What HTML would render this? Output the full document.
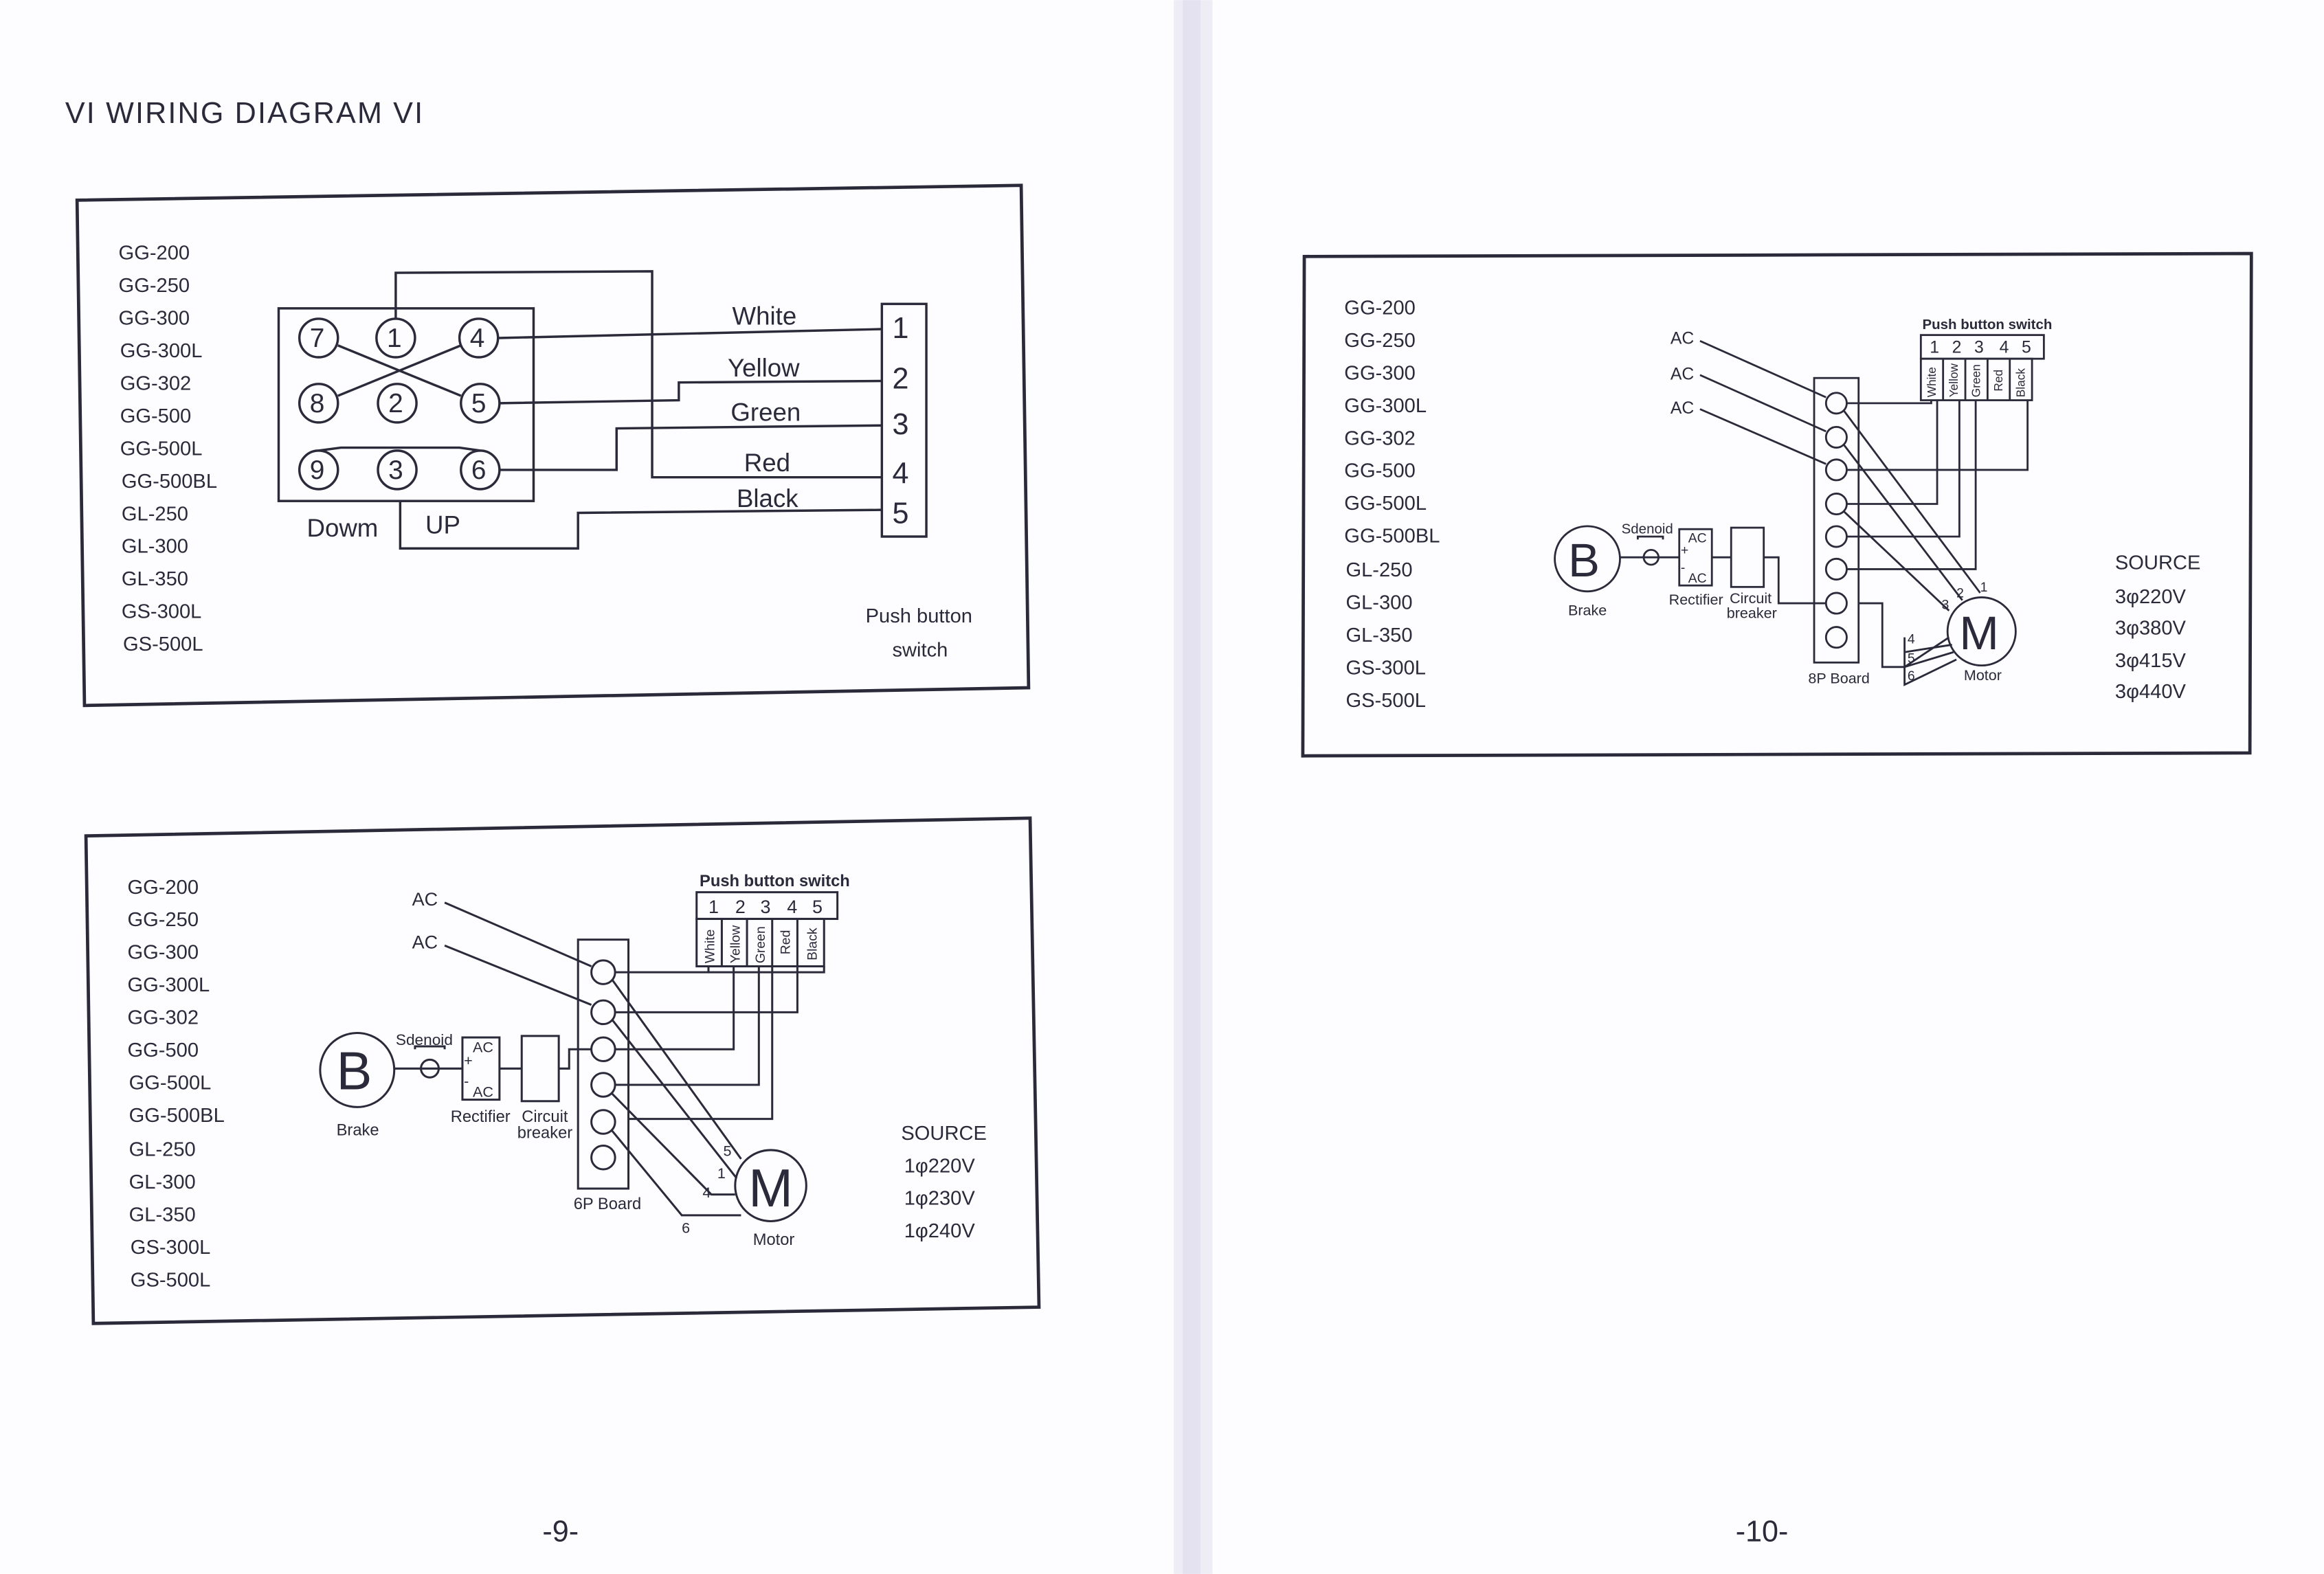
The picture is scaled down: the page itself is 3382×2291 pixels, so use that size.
<!DOCTYPE html>
<html><head><meta charset="utf-8"><style>
html,body{margin:0;padding:0;background:#fff;}
svg{display:block;}
text{font-family:"Liberation Sans",Arial,sans-serif;fill:#2a2a3a;}
</style></head><body>
<svg width="3382" height="2291" viewBox="0 0 1568 1062" xmlns="http://www.w3.org/2000/svg">
<rect x="0" y="0" width="1568" height="1062" fill="#fdfdff"/>
<rect x="792" y="0" width="26" height="1062" fill="#eeedf6"/>
<rect x="798" y="0" width="12" height="1062" fill="#e4e2f0"/>
<g stroke="#2a2a3a" fill="none" stroke-width="1.6">
<polygon points="52,135 689,125 694,464 57,476" stroke-width="2.2"/>
<polygon points="58,564 695,552 701,882 63,893" stroke-width="2.2"/>
<polygon points="880,173 1519,171 1518,508 879,510" stroke-width="2.2"/>
</g>
<text x="44" y="83" font-size="20" letter-spacing="1">VI WIRING DIAGRAM VI</text>

<g font-size="13.5">
<text x="80" y="175">GG-200</text><text x="80" y="197">GG-250</text><text x="80" y="219">GG-300</text><text x="81" y="241">GG-300L</text><text x="81" y="263">GG-302</text><text x="81" y="285">GG-500</text><text x="81" y="307">GG-500L</text><text x="82" y="329">GG-500BL</text><text x="82" y="351">GL-250</text><text x="82" y="373">GL-300</text><text x="82" y="395">GL-350</text><text x="82" y="417">GS-300L</text><text x="83" y="439">GS-500L</text>

<text x="86" y="603">GG-200</text><text x="86" y="625">GG-250</text><text x="86" y="647">GG-300</text><text x="86" y="669">GG-300L</text><text x="86" y="691">GG-302</text><text x="86" y="713">GG-500</text><text x="87" y="735">GG-500L</text><text x="87" y="757">GG-500BL</text><text x="87" y="780">GL-250</text><text x="87" y="802">GL-300</text><text x="87" y="824">GL-350</text><text x="88" y="846">GS-300L</text><text x="88" y="868">GS-500L</text>

<text x="907" y="212">GG-200</text><text x="907" y="234">GG-250</text><text x="907" y="256">GG-300</text><text x="907" y="278">GG-300L</text><text x="907" y="300">GG-302</text><text x="907" y="322">GG-500</text><text x="907" y="344">GG-500L</text><text x="907" y="366">GG-500BL</text><text x="908" y="389">GL-250</text><text x="908" y="411">GL-300</text><text x="908" y="433">GL-350</text><text x="908" y="455">GS-300L</text><text x="908" y="477">GS-500L</text>
</g>

<g stroke="#2a2a3a" fill="none" stroke-width="1.6">
<rect x="188" y="208" width="172" height="130"/>
<circle cx="215" cy="228" r="13"/><circle cx="267" cy="228" r="13"/><circle cx="323" cy="228" r="13"/>
<circle cx="215" cy="272" r="13"/><circle cx="268" cy="272" r="13"/><circle cx="324" cy="272" r="13"/>
<circle cx="215" cy="317" r="13"/><circle cx="268" cy="317" r="13"/><circle cx="324" cy="317" r="13"/>
<line x1="228" y1="233" x2="311" y2="267"/><line x1="228" y1="267" x2="311" y2="233"/>
<polyline points="215,304 230,302 310,302 324,304"/>
<polyline points="267,215 267,184 440,183 440,322 595,322"/>
<line x1="336" y1="228" x2="595" y2="222"/>
<polyline points="337,272 458,270 458,258 595,257"/>
<polyline points="337,317 416,317 416,289 595,287"/>
<polyline points="270,338 270,370 390,370 390,346 595,344"/>
<rect x="595" y="205" width="30" height="157"/>
</g>
<g font-size="17">
<text x="209" y="234" font-size="18">7</text><text x="261" y="234" font-size="18">1</text><text x="317" y="234" font-size="18">4</text>
<text x="209" y="278" font-size="18">8</text><text x="262" y="278" font-size="18">2</text><text x="318" y="278" font-size="18">5</text>
<text x="209" y="323" font-size="18">9</text><text x="262" y="323" font-size="18">3</text><text x="318" y="323" font-size="18">6</text>
<text x="494" y="219">White</text><text x="491" y="254">Yellow</text><text x="493" y="284">Green</text><text x="502" y="318">Red</text><text x="497" y="342">Black</text>
<text x="602" y="228" font-size="20">1</text><text x="602" y="262" font-size="20">2</text><text x="602" y="293" font-size="20">3</text><text x="602" y="326" font-size="20">4</text><text x="602" y="353" font-size="20">5</text>
<text x="207" y="362">Dowm</text><text x="287" y="360">UP</text>
</g>
<text x="584" y="420" font-size="13.5">Push  button</text>
<text x="602" y="443" font-size="13.5">switch</text>

<g stroke="#2a2a3a" fill="none" stroke-width="1.4">
<rect x="390" y="634" width="34" height="168"/>
<circle cx="407" cy="656" r="8"/><circle cx="407" cy="683" r="8"/><circle cx="407" cy="708" r="8"/><circle cx="407" cy="732" r="8"/><circle cx="407" cy="757" r="8"/><circle cx="407" cy="781" r="8"/>
<line x1="300" y1="609" x2="399" y2="652"/><line x1="300" y1="638" x2="399" y2="678"/>
<rect x="470" y="602" width="95" height="18"/>
<rect x="470" y="620" width="86" height="32"/>
<line x1="487" y1="620" x2="487" y2="652"/><line x1="504" y1="620" x2="504" y2="652"/><line x1="521" y1="620" x2="521" y2="652"/><line x1="538" y1="620" x2="538" y2="652"/>
<polyline points="415,656 478,656 478,652"/>
<polyline points="415,683 538,683 538,652"/>
<polyline points="415,708 495,708 495,652"/>
<polyline points="415,732 512,732 512,652"/>
<polyline points="424,755 521,755 521,652"/>
<polyline points="556,652 556,656 478,656"/>
<line x1="413" y1="661" x2="500" y2="782"/>
<line x1="413" y1="688" x2="497" y2="795"/>
<polyline points="413,738 480,806 496,806"/>
<polyline points="413,763 460,820 500,820"/>
<circle cx="520" cy="800" r="24"/>
<circle cx="241" cy="722" r="25"/>
<line x1="266" y1="721" x2="312" y2="721"/>
<circle cx="290" cy="721" r="6"/>
<polyline points="280,708 280,706 300,706 300,708"/>
<rect x="312" y="700" width="25" height="42"/>
<line x1="337" y1="721" x2="352" y2="721"/>
<rect x="352" y="699" width="25" height="44"/>
<polyline points="377,721 384,721 384,708 399,708"/>
</g>
<g font-size="12.5">
<text x="278" y="611">AC</text><text x="278" y="640">AC</text>
<text x="472" y="598" font-size="11" font-weight="bold">Push button switch</text>
<text x="478" y="616">1</text><text x="496" y="616">2</text><text x="513" y="616">3</text><text x="531" y="616">4</text><text x="548" y="616">5</text>
<text x="227" y="735" font-size="36">B</text>
<text x="505" y="814" font-size="36">M</text>
<text x="227" y="766" font-size="11">Brake</text>
<text x="267" y="705" font-size="10.5">Sdenoid</text>
<text x="319" y="710" font-size="10">AC</text><text x="313" y="719" font-size="10">+</text><text x="313" y="733" font-size="10">-</text><text x="319" y="740" font-size="10">AC</text>
<text x="304" y="757" font-size="11">Rectifier</text><text x="352" y="757" font-size="11">Circuit</text><text x="349" y="768" font-size="11">breaker</text>
<text x="387" y="816" font-size="11">6P Board</text>
<text x="508" y="840" font-size="11">Motor</text>
<text x="488" y="780" font-size="10">5</text><text x="484" y="795" font-size="10">1</text><text x="474" y="808" font-size="10">4</text><text x="460" y="832" font-size="10">6</text>
<text x="608" y="769" font-size="13.5">SOURCE</text>
<text x="610" y="791" font-size="13.5">1φ220V</text><text x="610" y="813" font-size="13.5">1φ230V</text><text x="610" y="835" font-size="13.5">1φ240V</text>
</g>
<g font-size="9">
<text transform="translate(482,650) rotate(-90)">White</text>
<text transform="translate(499,650) rotate(-90)">Yellow</text>
<text transform="translate(516,650) rotate(-90)">Green</text>
<text transform="translate(533,644) rotate(-90)">Red</text>
<text transform="translate(551,648) rotate(-90)">Black</text>
</g>

<g stroke="#2a2a3a" fill="none" stroke-width="1.3">
<rect x="1224" y="255" width="30" height="192"/>
<circle cx="1239" cy="272" r="7"/><circle cx="1239" cy="295" r="7"/><circle cx="1239" cy="317" r="7"/><circle cx="1239" cy="340" r="7"/><circle cx="1239" cy="362" r="7"/><circle cx="1239" cy="384" r="7"/><circle cx="1239" cy="407" r="7"/><circle cx="1239" cy="430" r="7"/>
<line x1="1147" y1="230" x2="1232" y2="268"/><line x1="1147" y1="253" x2="1232" y2="291"/><line x1="1147" y1="276" x2="1232" y2="313"/>
<rect x="1296" y="226" width="83" height="16"/>
<rect x="1296" y="242" width="75" height="28"/>
<line x1="1311" y1="242" x2="1311" y2="270"/><line x1="1326" y1="242" x2="1326" y2="270"/><line x1="1341" y1="242" x2="1341" y2="270"/><line x1="1356" y1="242" x2="1356" y2="270"/>
<polyline points="1246,272 1303,272 1303,270"/>
<polyline points="1246,317 1368,317 1368,270"/>
<polyline points="1246,340 1307,340 1307,270"/>
<polyline points="1246,362 1322,362 1322,270"/>
<polyline points="1246,384 1333,384 1333,270"/>
<line x1="1244" y1="277" x2="1336" y2="400"/>
<line x1="1244" y1="300" x2="1324" y2="405"/>
<line x1="1244" y1="345" x2="1315" y2="412"/>
<polyline points="1254,407 1270,407 1270,450 1285,450 1315,430"/>
<polyline points="1285,430 1285,462 1320,445"/>
<line x1="1285" y1="440" x2="1317" y2="435"/>
<line x1="1285" y1="450" x2="1318" y2="440"/>
<circle cx="1337" cy="426" r="23"/>
<circle cx="1071" cy="377" r="22"/>
<line x1="1093" y1="376" x2="1133" y2="376"/>
<circle cx="1114" cy="376" r="5"/>
<polyline points="1105,364 1105,362 1122,362 1122,364"/>
<rect x="1133" y="357" width="22" height="38"/>
<line x1="1155" y1="376" x2="1168" y2="376"/>
<rect x="1168" y="356" width="22" height="40"/>
<polyline points="1190,376 1200,376 1200,407 1232,407"/>
</g>
<g font-size="11.5">
<text x="1127" y="232">AC</text><text x="1127" y="256">AC</text><text x="1127" y="279">AC</text>
<text x="1297" y="222" font-size="9.5" font-weight="bold">Push button switch</text>
<text x="1302" y="238">1</text><text x="1317" y="238">2</text><text x="1332" y="238">3</text><text x="1349" y="238">4</text><text x="1364" y="238">5</text>
<text x="1058" y="389" font-size="32">B</text>
<text x="1322" y="438" font-size="32">M</text>
<text x="1058" y="415" font-size="10">Brake</text>
<text x="1094" y="360" font-size="9.5">Sdenoid</text>
<text x="1139" y="366" font-size="9">AC</text><text x="1134" y="374" font-size="9">+</text><text x="1134" y="386" font-size="9">-</text><text x="1139" y="393" font-size="9">AC</text>
<text x="1126" y="408" font-size="10">Rectifier</text><text x="1167" y="407" font-size="10">Circuit</text><text x="1165" y="417" font-size="10">breaker</text>
<text x="1220" y="461" font-size="10">8P Board</text>
<text x="1325" y="459" font-size="10">Motor</text>
<text x="1336" y="399" font-size="9">1</text><text x="1320" y="403" font-size="9">2</text><text x="1310" y="411" font-size="9">3</text>
<text x="1287" y="434" font-size="9">4</text><text x="1287" y="447" font-size="9">5</text><text x="1287" y="459" font-size="9">6</text>
<text x="1427" y="384" font-size="13.5">SOURCE</text>
<text x="1427" y="407" font-size="13.5">3φ220V</text><text x="1427" y="428" font-size="13.5">3φ380V</text><text x="1427" y="450" font-size="13.5">3φ415V</text><text x="1427" y="471" font-size="13.5">3φ440V</text>
</g>
<g font-size="8">
<text transform="translate(1306,268) rotate(-90)">White</text>
<text transform="translate(1321,268) rotate(-90)">Yellow</text>
<text transform="translate(1336,268) rotate(-90)">Green</text>
<text transform="translate(1351,264) rotate(-90)">Red</text>
<text transform="translate(1366,268) rotate(-90)">Black</text>
</g>

<text x="366" y="1040" font-size="20">-9-</text>
<text x="1171" y="1040" font-size="20">-10-</text>
</svg>
</body></html>
